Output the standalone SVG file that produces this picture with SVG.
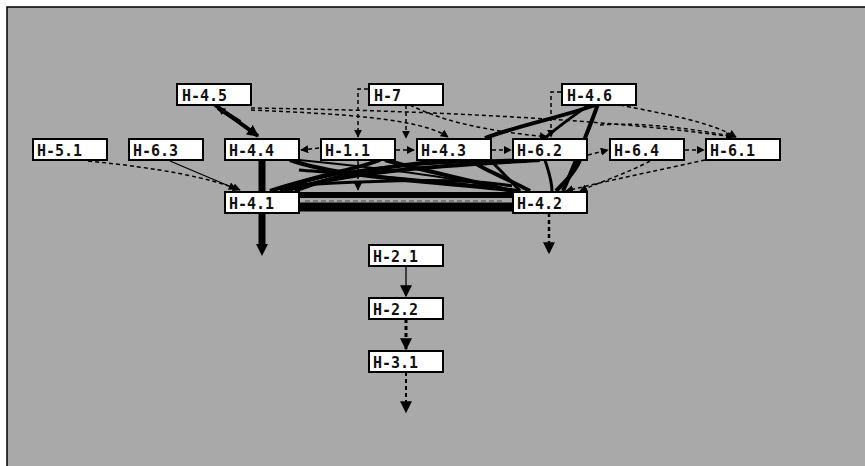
<svg xmlns="http://www.w3.org/2000/svg" width="865" height="466" viewBox="0 0 865 466">
<defs>
<marker id="ah" viewBox="0 0 10 10" refX="9" refY="5" markerWidth="8" markerHeight="8" markerUnits="userSpaceOnUse" orient="auto"><path d="M0,0 L10,5 L0,10 z" fill="#000"/></marker>
<marker id="ahb" viewBox="0 0 10 10" refX="9" refY="5" markerWidth="12" markerHeight="12" markerUnits="userSpaceOnUse" orient="auto"><path d="M0,0 L10,5 L0,10 z" fill="#000"/></marker>
</defs>
<style>
.node rect{fill:#fff;stroke:#000;stroke-width:2}
.node text{font-family:"DejaVu Sans Mono","Liberation Mono",monospace;font-weight:bold;font-size:15px;fill:#111}
.thin{fill:none;stroke:#000;stroke-width:1.3}
.dash{fill:none;stroke:#000;stroke-width:1.5;stroke-dasharray:4 3}
.thick{fill:none;stroke:#000;stroke-width:4}
.heavy{fill:none;stroke:#000;stroke-width:7}
.grey{fill:none;stroke:#777;stroke-width:2;stroke-dasharray:5 3}
</style>
<rect x="0" y="0" width="865" height="466" fill="#fff"/>
<rect x="7" y="7" width="858" height="459" fill="#a9a9a9"/>
<path d="M7,466 L7,7 L865,7" fill="none" stroke="#000" stroke-width="1.5"/>
<g id="connectors">
<path class="thick" d="M215,105 L258,136" marker-end="url(#ahb)"/>
<path class="thick" d="M240,122 L218,108" marker-end="url(#ah)"/>
<path class="heavy" d="M262,160 L262,191"/>
<path class="heavy" d="M262,212 L262,246"/>
<path d="M256,244 L268,244 L262,256 z" fill="#000"/>
<path class="heavy" d="M299,195 L512,195" style="stroke-width:6"/>
<path class="heavy" d="M299,207 L512,207" style="stroke-width:9"/>
<path class="grey" d="M305,201 L505,201"/>
<path class="thick" d="M290,160 C340,178 440,182 520,191"/>
<path class="thick" d="M285,191 C350,170 460,165 540,160"/>
<path class="thick" d="M295,191 C340,172 400,165 450,160"/>
<path class="thick" d="M270,191 C320,175 360,168 380,160"/>
<path class="thick" d="M512,191 C470,180 420,170 385,160"/>
<path class="thick" d="M530,191 C500,175 480,168 470,160"/>
<path class="thick" d="M299,185 C380,180 470,178 512,186" style="stroke-width:3"/>
<path class="thick" d="M280,191 C330,168 420,162 520,160" style="stroke-width:3"/>
<path class="thick" d="M299,170 C360,175 450,182 512,190" style="stroke-width:3"/>
<path class="thick" d="M299,160 C380,168 460,178 515,191" style="stroke-width:2"/>
<path class="thick" d="M598,104 C585,140 572,170 563,191"/>
<path class="thick" d="M598,104 C570,115 520,125 485,138"/>
<path class="thick" d="M590,104 C575,115 560,125 545,138" style="stroke-width:3"/>
<path class="thick" d="M580,160 C575,172 565,182 556,191"/>
<path class="thick" d="M545,160 C548,170 552,180 552,191" style="stroke-width:3"/>
<path class="thick" d="M490,160 C500,170 510,180 520,191" style="stroke-width:3"/>
<path class="dash" d="M251,108 C400,110 600,118 733,137" marker-end="url(#ah)"/>
<path class="dash" d="M251,110 C340,114 420,118 448,137" marker-end="url(#ah)"/>
<path class="dash" d="M368,89 L358,89 L358,137" marker-end="url(#ah)"/>
<path class="dash" d="M406,105 L406,138" marker-end="url(#ah)"/>
<path class="dash" d="M410,105 C450,125 500,132 547,137" marker-end="url(#ah)"/>
<path class="dash" d="M561,92 L551,92 L551,137" marker-end="url(#ah)"/>
<path class="dash" d="M620,105 C670,115 710,122 736,137" marker-end="url(#ah)"/>
<path class="dash" d="M600,125 C640,122 690,128 735,137"/>
<path class="dash" d="M88,161 C160,168 210,178 240,190" marker-end="url(#ah)"/>
<path class="thin" d="M170,161 L236,189" marker-end="url(#ah)"/>
<path class="dash" d="M705,160 C660,170 610,180 566,191" marker-end="url(#ah)"/>
<path class="dash" d="M650,161 C630,172 600,182 580,191" marker-end="url(#ah)"/>
<path class="dash" d="M588,155 L608,150" marker-end="url(#ah)"/>
<path class="dash" d="M685,150 L704,150" marker-end="url(#ah)"/>
<path class="dash" d="M319,148 L301,150" marker-end="url(#ah)"/>
<path class="dash" d="M396,150 L414,150" marker-end="url(#ah)"/>
<path class="dash" d="M492,150 L511,150" marker-end="url(#ah)"/>
<path class="dash" d="M358,161 L358,190" marker-end="url(#ah)"/>
<path class="dash" d="M549,213 L549,253" style="stroke-width:2.5" marker-end="url(#ahb)"/>
<path class="thin" d="M406,266 L406,296" marker-end="url(#ahb)"/>
<path class="dash" d="M406,319 L406,349" style="stroke-width:3" marker-end="url(#ahb)"/>
<path class="dash" d="M406,372 L406,412" style="stroke-width:2" marker-end="url(#ahb)"/>
</g>
<g id="n-H-4.5" class="node"><rect x="177" y="84" width="74" height="21"/><text x="182" y="101">H-4.5</text></g>
<g id="n-H-7" class="node"><rect x="369" y="84" width="74" height="21"/><text x="374" y="101">H-7</text></g>
<g id="n-H-4.6" class="node"><rect x="562" y="84" width="74" height="21"/><text x="567" y="101">H-4.6</text></g>
<g id="n-H-5.1" class="node"><rect x="33" y="139" width="74" height="21"/><text x="37" y="156">H-5.1</text></g>
<g id="n-H-6.3" class="node"><rect x="129" y="139" width="74" height="21"/><text x="133" y="156">H-6.3</text></g>
<g id="n-H-4.4" class="node"><rect x="225" y="139" width="74" height="21"/><text x="229" y="156">H-4.4</text></g>
<g id="n-H-1.1" class="node"><rect x="321" y="139" width="74" height="21"/><text x="325" y="156">H-1.1</text></g>
<g id="n-H-4.3" class="node"><rect x="417" y="139" width="74" height="21"/><text x="421" y="156">H-4.3</text></g>
<g id="n-H-6.2" class="node"><rect x="513" y="139" width="74" height="21"/><text x="517" y="156">H-6.2</text></g>
<g id="n-H-6.4" class="node"><rect x="610" y="139" width="74" height="21"/><text x="614" y="156">H-6.4</text></g>
<g id="n-H-6.1" class="node"><rect x="706" y="139" width="74" height="21"/><text x="710" y="156">H-6.1</text></g>
<g id="n-H-4.1" class="node"><rect x="225" y="192" width="74" height="21"/><text x="229" y="209">H-4.1</text></g>
<g id="n-H-4.2" class="node"><rect x="513" y="192" width="74" height="21"/><text x="517" y="209">H-4.2</text></g>
<g id="n-H-2.1" class="node"><rect x="369" y="245" width="74" height="21"/><text x="373" y="262">H-2.1</text></g>
<g id="n-H-2.2" class="node"><rect x="369" y="298" width="74" height="21"/><text x="373" y="315">H-2.2</text></g>
<g id="n-H-3.1" class="node"><rect x="369" y="351" width="74" height="21"/><text x="373" y="368">H-3.1</text></g>
</svg>
